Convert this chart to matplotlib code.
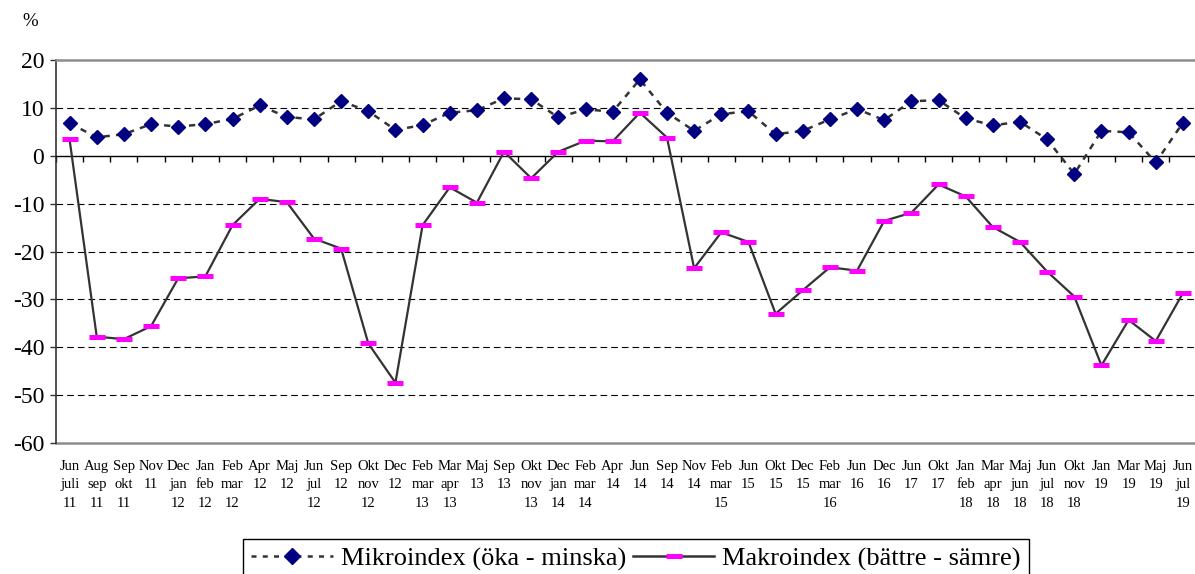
import numpy as np
import matplotlib
matplotlib.use("Agg")
import matplotlib.pyplot as plt
from matplotlib.lines import Line2D

labels = ["Jun\njuli\n11", "Aug\nsep\n11", "Sep\nokt\n11", "Nov\n11", "Dec\njan\n12",
          "Jan\nfeb\n12", "Feb\nmar\n12", "Apr\n12", "Maj\n12", "Jun\njul\n12",
          "Sep\n12", "Okt\nnov\n12", "Dec\n12", "Feb\nmar\n13", "Mar\napr\n13",
          "Maj\n13", "Sep\n13", "Okt\nnov\n13", "Dec\njan\n14", "Feb\nmar\n14",
          "Apr\n14", "Jun\n14", "Sep\n14", "Nov\n14", "Feb\nmar\n15",
          "Jun\n15", "Okt\n15", "Dec\n15", "Feb\nmar\n16", "Jun\n16",
          "Dec\n16", "Jun\n17", "Okt\n17", "Jan\nfeb\n18", "Mar\napr\n18",
          "Maj\njun\n18", "Jun\njul\n18", "Okt\nnov\n18", "Jan\n19", "Mar\n19",
          "Maj\n19", "Jun\njul\n19"]

mikro = [6.8, 3.85, 4.5, 6.6, 6.1, 6.6, 7.7, 10.5, 8.1, 7.6,
         11.4, 9.3, 5.4, 6.4, 9.0, 9.5, 12.0, 11.8, 8.0, 9.7,
         9.2, 15.95, 9.0, 5.2, 8.7, 9.3, 4.5, 5.2, 7.6, 9.75,
         7.45, 11.4, 11.6, 7.8, 6.35, 7.1, 3.4, -3.8, 5.2, 4.9,
         -1.4, 6.9]

makro = [3.4, -37.8, -38.3, -35.6, -25.6, -25.2, -14.5, -9.0, -9.7, -17.3,
         -19.4, -39.2, -47.4, -14.5, -6.6, -9.8, 0.85, -4.7, 0.85, 3.15,
         3.0, 9.0, 3.8, -23.5, -16.0, -18.0, -33.0, -28.1, -23.3, -24.0,
         -13.6, -11.9, -6.0, -8.5, -14.9, -18.0, -24.2, -29.4, -43.8, -34.3,
         -38.7, -28.7]

yticks = [-60, -50, -40, -30, -20, -10, 0, 10, 20]
gridvals = [10, -10, -20, -30, -40, -50]

plt.rcParams['font.family'] = ['Liberation Serif', 'DejaVu Serif']
plt.rcParams['axes.unicode_minus'] = False

W, H = 1195, 574
fig = plt.figure(figsize=(W / 100, H / 100), dpi=100)
ax = fig.add_axes([56 / W, 1 - 443 / H, 1140.5 / W, 383 / H])

x = np.arange(len(labels))
ax.set_xlim(-0.5, len(labels) - 0.5)
ax.set_ylim(-60, 20)

for g in gridvals:
    ax.axhline(g, color='black', lw=0.8, dashes=(6, 3.6), zorder=1)

ax.plot(x, mikro, color='#333333', lw=1.8, dashes=(2.5, 2.5), marker='D', ms=7.5,
        mfc='#000080', mec='#000080', zorder=3)
ax.plot(x, makro, color='#333333', lw=1.6, marker='_', ms=11, mew=3.6,
        mec='#FF00FF', zorder=3)

# spines
ax.spines['right'].set_visible(False)
ax.spines['top'].set_color('#8c8c8c')
ax.spines['top'].set_linewidth(1.8)
ax.spines['left'].set_color('#333333')
ax.spines['left'].set_linewidth(1.2)
ax.spines['bottom'].set_position(('data', 0))
ax.spines['bottom'].set_color('black')
ax.spines['bottom'].set_linewidth(1.0)

ax.set_xticks(np.arange(-0.5, len(labels), 1.0))
ax.set_xticklabels([])
ax.tick_params(axis='x', direction='out', length=4, width=1.0, color='black')
ax.set_yticks(yticks)
ax.tick_params(axis='y', direction='out', length=4.5, width=1.0, pad=4,
               labelsize=17, color='#333333')

sec = ax.secondary_xaxis('bottom')
sec.set_xticks(x, labels=labels)
sec.tick_params(length=0, pad=12, labelsize=10.5)
for t in sec.get_xticklabels():
    t.set_linespacing(1.55)
    t.set_verticalalignment('top')
sec.spines['bottom'].set_color('#8c8c8c')
sec.spines['bottom'].set_linewidth(1.8)

fig.text(30 / W, 1 - 21 / H, '%', ha='center', va='center', fontsize=13.5)

handles = [
    Line2D([], [], color='#333333', lw=1.8, dashes=(2, 2.5), marker='D', ms=8,
           mfc='#000080', mec='#000080'),
    Line2D([], [], color='#333333', lw=1.8, marker='_', ms=11, mew=3.6,
           mec='#FF00FF'),
]
leg = fig.legend(handles, ['Mikroindex (öka - minska)', 'Makroindex (bättre - sämre)'],
                 loc='upper center', bbox_to_anchor=(636 / W, 1 - 539 / H), ncol=2,
                 fontsize=19, frameon=True, fancybox=False, edgecolor='black',
                 framealpha=1, numpoints=1, handlelength=3.1, handletextpad=0.3,
                 columnspacing=0.25, borderpad=0.3, borderaxespad=0)
leg.get_frame().set_linewidth(1.0)

fig.savefig('out.png', dpi=100)
